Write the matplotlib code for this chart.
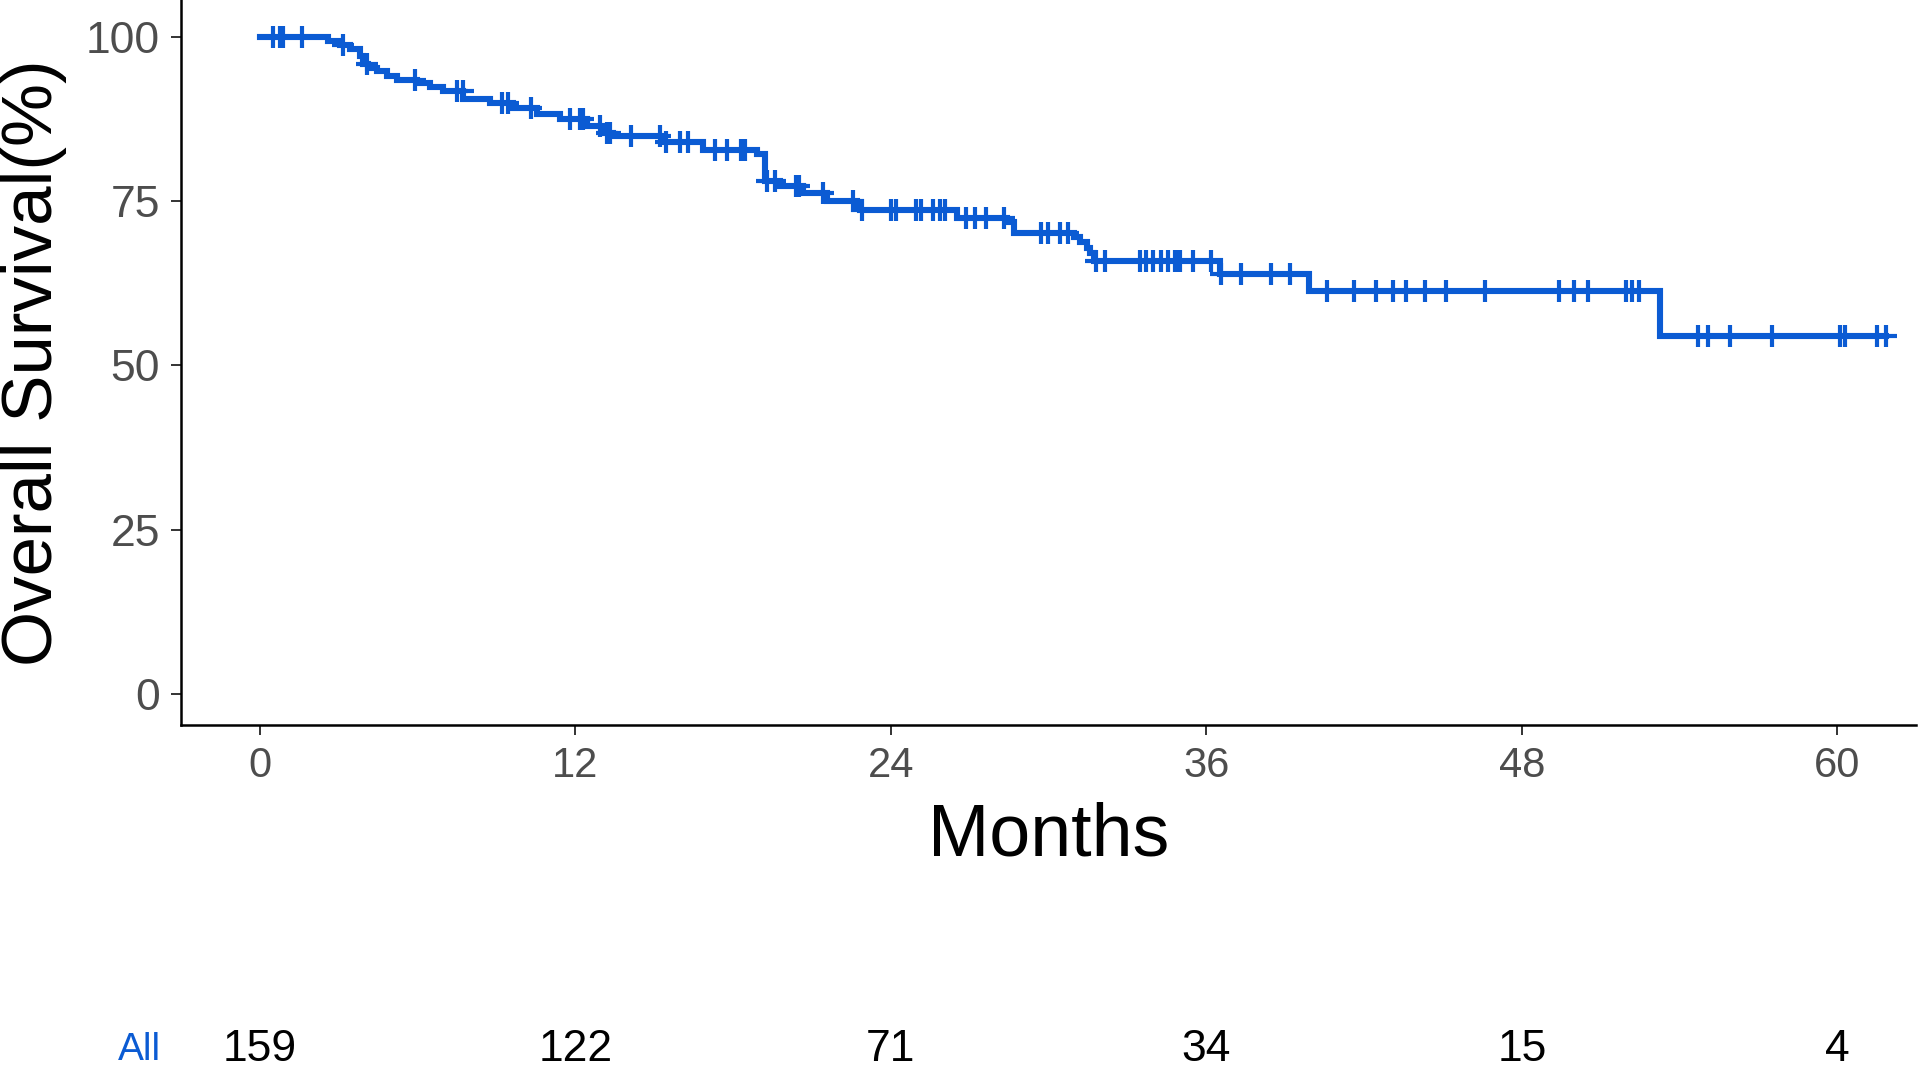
import numpy as np
import matplotlib
matplotlib.use("Agg")
import matplotlib.pyplot as plt

plt.rcParams['font.family'] = ['Liberation Sans', 'DejaVu Sans']

# Data ----------------------------------------------------

# Kaplan-Meier steps: time (months) of each drop and survival (%) after it
step_times = [0, 2.60, 3.04, 3.42, 3.81, 3.93, 4.10, 4.44, 4.82, 5.20, 5.96, 6.47,
              6.98, 7.74, 8.75, 9.64, 10.53, 11.40, 12.43, 13.06, 13.44, 15.35,
              16.87, 18.90, 19.22, 19.79, 20.67, 21.56, 22.70, 22.83, 26.51,
              28.41, 28.67, 30.95, 31.20, 31.46, 31.58, 31.71, 36.53, 39.89, 53.27]
step_surv = [100, 99.3, 98.7, 98.1, 97.1, 95.9, 95.3, 94.8, 94.0, 93.4, 93.0, 92.4,
             91.7, 90.5, 90.0, 89.2, 88.2, 87.5, 86.4, 85.4, 84.9, 84.0,
             82.8, 82.1, 78.0, 77.3, 76.3, 75.0, 74.2, 73.7, 72.5,
             71.8, 70.2, 69.6, 68.8, 67.8, 67.1, 65.9, 63.9, 61.3, 54.5]
last_time = 61.85

# censored observations (months)
censor_times = [0.5, 0.76, 0.87, 1.6, 3.16, 4.06, 5.9, 7.48, 7.73, 9.19, 9.44, 10.32,
                11.8, 12.17, 12.28, 12.93, 13.2, 13.3, 14.13, 15.2, 15.46, 15.97,
                16.29, 17.3, 17.75, 18.3, 18.44, 19.3, 19.6, 20.4, 20.5, 21.4,
                22.56, 22.9, 24.0, 24.2, 24.97, 25.16, 25.6, 25.86, 26.05, 26.87,
                27.19, 27.63, 28.3, 29.72, 29.97, 30.42, 30.74, 31.81, 32.13,
                33.46, 33.71, 33.97, 34.28, 34.54, 34.79, 34.86, 34.98, 35.49,
                36.19, 36.56, 37.3, 38.47, 39.2, 40.6, 41.6, 42.46, 43.1, 43.6,
                44.3, 45.1, 46.6, 49.4, 50.0, 50.5, 51.96, 52.2, 52.47, 54.7,
                55.1, 55.9, 57.5, 60.1, 60.3, 61.5, 61.85]

# number at risk
risk_times = [0, 12, 24, 36, 48, 60]
risk_counts = [159, 122, 71, 34, 15, 4]
risk_label = 'All'

# Plot ====================================================

blue = '#0B5BD3'
grey = '#4D4D4D'

fig = plt.figure(figsize=(19.2, 10.73), dpi=100)
ax = fig.add_axes([0.0943, 0.3243, 0.9037, 0.6757])

t_line = step_times + [last_time]
s_line = step_surv + [step_surv[-1]]
ax.step(t_line, s_line, where='post', color=blue, lw=4.4, solid_joinstyle='miter')

idx = np.searchsorted(step_times, censor_times, side='right') - 1
cens_surv = np.array(step_surv)[idx]
ax.plot(censor_times, cens_surv, ls='none', marker='+', ms=16, mew=3.0, color=blue)

ax.set_xlim(-3, 63)
ax.set_ylim(-4.7, 105.6)
ax.set_xticks(risk_times)
ax.set_yticks([0, 25, 50, 75, 100])

for side in ['top', 'right']:
    ax.spines[side].set_visible(False)
for side in ['left', 'bottom']:
    ax.spines[side].set_linewidth(1.8)
    ax.spines[side].set_color('black')

ax.tick_params(axis='both', length=7, width=1.4, color='#333333', labelcolor=grey)
ax.tick_params(axis='y', pad=8, labelsize=32)
ax.tick_params(axis='x', pad=8, labelsize=30)

ax.set_xlabel('Months', fontsize=53)
ax.xaxis.set_label_coords(0.5, -0.105)
ax.set_ylabel('Overall Survival(%)', fontsize=51)
ax.yaxis.set_label_coords(-0.066, 0.5)

# risk table below the plot
trans = ax.get_xaxis_transform()
for t, n in zip(risk_times, risk_counts):
    ax.text(t, -0.448, str(n), transform=trans, ha='center', va='center',
            fontsize=32, color='black', clip_on=False)
ax.text(-4.6, -0.448, risk_label, transform=trans, ha='center', va='center',
        fontsize=28, color=blue, clip_on=False)

fig.savefig('out.png', dpi=100)
